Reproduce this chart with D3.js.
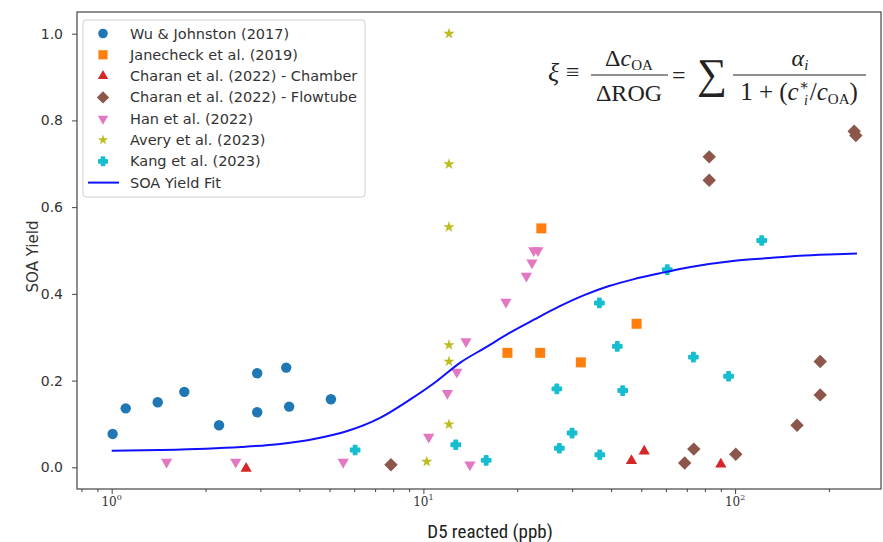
<!DOCTYPE html>
<html>
<head>
<meta charset="utf-8">
<script src="https://cdn.jsdelivr.net/npm/d3@7"></script>
<style>
  body { margin: 0; background: #fff; }
  svg { display: block; }
</style>
</head>
<body>
<svg id="chart" width="883" height="542"></svg>
<script>
// ---- data (x = D5 reacted, ppb ; y = SOA yield) ----
var wuX = [1.007, 1.109, 1.405, 1.71, 2.21, 2.93, 2.93, 3.63, 3.71, 5.05];
var wuY = [0.077, 0.136, 0.150, 0.174, 0.097, 0.217, 0.127, 0.230, 0.140, 0.157];

var janX = [18.6, 23.7, 23.9, 32.0, 48.3];
var janY = [0.264, 0.264, 0.551, 0.242, 0.331];

var chamX = [2.70, 46.5, 51.1, 90.0];
var chamY = [-0.003, 0.015, 0.037, 0.007];

var flowX = [7.87, 68.9, 73.7, 82.6, 82.6, 100.5, 158, 187.5, 187.5, 241, 244];
var flowY = [0.006, 0.010, 0.042, 0.716, 0.662, 0.030, 0.097, 0.167, 0.244, 0.775, 0.765];

var hanX = [1.50, 2.50, 5.53, 10.4, 11.94, 12.8, 13.7, 14.1, 18.4, 21.4, 22.3, 22.6, 23.3];
var hanY = [0.012, 0.012, 0.012, 0.070, 0.171, 0.220, 0.290, 0.006, 0.381, 0.441, 0.472, 0.500, 0.500];

var averyX = [10.25, 12.08, 12.08, 12.08, 12.08, 12.08, 12.08];
var averyY = [0.013, 0.099, 0.244, 0.282, 0.554, 0.699, 1.0];

var kangX = [6.04, 12.7, 15.9, 26.8, 27.3, 30.0, 36.7, 36.8, 41.9, 43.6, 60.6, 73.5, 95.3, 121.7];
var kangY = [0.040, 0.052, 0.016, 0.181, 0.044, 0.079, 0.379, 0.029, 0.279, 0.177, 0.456, 0.254, 0.210, 0.523];

// fitted curve
var fitX = [1.0, 1.43, 2.0, 2.6, 3.47, 4.5, 5.67, 7.26, 9.05, 11.0, 13.1, 15.8, 18.9, 22.7, 27.3, 32.8, 39.4, 47.4, 57.0, 72.0, 98.3, 125, 161, 200, 246];
var fitY = [0.038, 0.040, 0.043, 0.047, 0.054, 0.066, 0.083, 0.114, 0.156, 0.198, 0.241, 0.276, 0.310, 0.341, 0.371, 0.397, 0.418, 0.434, 0.447, 0.462, 0.476, 0.482, 0.488, 0.491, 0.493];

var xMajor = [1, 10, 100];
var xMinor = [0.8, 0.9, 2, 3, 4, 5, 6, 7, 8, 9, 20, 30, 40, 50, 60, 70, 80, 90, 200];
var yTicks = [0, 0.2, 0.4, 0.6, 0.8, 1.0];

var series = [
    {name: "Wu & Johnston (2017)",             xs: wuX,    ys: wuY,    color: "#1f77b4", sym: d3.symbolCircle,   size: 85,  rot: 0,   sw: 0},
    {name: "Janecheck et al. (2019)",          xs: janX,   ys: janY,   color: "#ff7f0e", sym: d3.symbolSquare,   size: 100, rot: 0,   sw: 0},
    {name: "Charan et al. (2022) - Chamber",   xs: chamX,  ys: chamY,  color: "#d62728", sym: d3.symbolTriangle, size: 55,  rot: 0,   sw: 0},
    {name: "Charan et al. (2022) - Flowtube",  xs: flowX,  ys: flowY,  color: "#8c564b", sym: d3.symbolSquare,   size: 90,  rot: 45,  sw: 0},
    {name: "Han et al. (2022)",                xs: hanX,   ys: hanY,   color: "#e377c2", sym: d3.symbolTriangle, size: 55,  rot: 180, sw: 0},
    {name: "Avery et al. (2023)",              xs: averyX, ys: averyY, color: "#bcbd22", sym: d3.symbolStar,     size: 40,  rot: 0,   sw: 0},
    {name: "Kang et al. (2023)",               xs: kangX,  ys: kangY,  color: "#17becf", sym: d3.symbolCross,    size: 42,  rot: 0,   sw: 2}
];

var svg = d3.select("#chart");
var L = 77, R = 881, T = 12, B = 489;

var x = d3.scaleLog().domain([0.774, 293.8]).range([L, R]);
var y = d3.scaleLinear().domain([-0.05, 1.05]).range([B, T]);

var sans = "'DejaVu Sans', sans-serif";

// ---- axes ----
var gx = svg.append("g").attr("transform", "translate(0," + B + ")");
gx.call(d3.axisBottom(x).tickValues(xMinor).tickSize(3).tickFormat(""));
gx.append("g").call(d3.axisBottom(x).tickValues(xMajor).tickSize(5).tickFormat(""));
gx.selectAll("path.domain").remove();
gx.selectAll("line").attr("stroke", "#444").attr("stroke-width", 1);

var xl = gx.selectAll("text.xl").data(xMajor).enter().append("text")
    .attr("class", "xl")
    .attr("x", function(d){ return x(d); })
    .attr("y", 17)
    .attr("text-anchor", "middle")
    .attr("fill", "#333")
    .attr("font-family", "'DejaVu Serif', serif")
    .attr("font-size", 12);
xl.append("tspan").text("10");
xl.append("tspan").attr("dy", -6).attr("font-size", 8).text(function(d){ return Math.round(Math.log10(d)); });

var gy = svg.append("g").attr("transform", "translate(" + L + ",0)");
gy.call(d3.axisLeft(y).tickValues(yTicks).tickFormat(d3.format(".1f")).tickSize(5).tickPadding(9));
gy.selectAll("path.domain").remove();
gy.selectAll("line").attr("stroke", "#444");
gy.selectAll("text").attr("fill", "#333").attr("font-family", sans).attr("font-size", 14);

// frame
svg.append("rect").attr("x", L).attr("y", T).attr("width", R - L).attr("height", B - T)
    .attr("fill", "none").attr("stroke", "#444").attr("stroke-width", 1.2);

// axis labels
svg.append("text")
    .attr("transform", "translate(38," + ((T + B) / 2 + 6) + ") rotate(-90)")
    .attr("text-anchor", "middle")
    .attr("fill", "#333")
    .attr("font-family", sans)
    .attr("font-size", 15)
    .text("SOA Yield");

svg.append("text")
    .attr("x", 490).attr("y", 538)
    .attr("text-anchor", "middle")
    .attr("fill", "#222")
    .attr("font-family", "'Liberation Sans Narrow', 'Roboto Condensed', Roboto, sans-serif")
    .attr("font-stretch", "condensed")
    .attr("font-size", 19)
    .text("D5 reacted (ppb)");

// ---- scatter points ----
var plot = svg.append("g");
series.forEach(function(s){
    var pts = s.xs.map(function(v, i){ return {x: v, y: s.ys[i]}; });
    plot.append("g").selectAll("path").data(pts).enter().append("path")
        .attr("d", d3.symbol().type(s.sym).size(s.size))
        .attr("transform", function(d){
            return "translate(" + x(d.x) + "," + y(d.y) + ") rotate(" + s.rot + ")";
        })
        .attr("fill", s.color)
        .attr("stroke", s.sw ? s.color : "none")
        .attr("stroke-width", s.sw)
        .attr("stroke-linejoin", "round");
});

// ---- fit line ----
var fitPts = fitX.map(function(v, i){ return [v, fitY[i]]; });
svg.append("path")
    .datum(fitPts)
    .attr("fill", "none")
    .attr("stroke", "#1010ff")
    .attr("stroke-width", 2)
    .attr("d", d3.line().curve(d3.curveMonotoneX)
        .x(function(d){ return x(d[0]); })
        .y(function(d){ return y(d[1]); }));

// ---- legend ----
var lg = svg.append("g");
lg.append("rect").attr("x", 83).attr("y", 20).attr("width", 282).attr("height", 177)
    .attr("rx", 3).attr("fill", "#fff").attr("fill-opacity", 0.8)
    .attr("stroke", "#d0d0d0");

var rowY = function(i){ return 33.5 + i * 21.3; };
series.forEach(function(s, i){
    lg.append("path")
        .attr("d", d3.symbol().type(s.sym).size(s.size * 0.85))
        .attr("transform", "translate(103," + rowY(i) + ") rotate(" + s.rot + ")")
        .attr("fill", s.color)
        .attr("stroke", s.sw ? s.color : "none")
        .attr("stroke-width", s.sw)
        .attr("stroke-linejoin", "round");
    lg.append("text").attr("x", 130).attr("y", rowY(i) + 5)
        .attr("fill", "#333").attr("font-family", sans).attr("font-size", 14.5)
        .text(s.name);
});
lg.append("line").attr("x1", 88).attr("x2", 119).attr("y1", rowY(7)).attr("y2", rowY(7))
    .attr("stroke", "#1010ff").attr("stroke-width", 2);
lg.append("text").attr("x", 130).attr("y", rowY(7) + 5)
    .attr("fill", "#333").attr("font-family", sans).attr("font-size", 14.5)
    .text("SOA Yield Fit");

// ---- equation ----
var eq = svg.append("g")
    .attr("font-family", "'Liberation Serif', 'DejaVu Serif', serif")
    .attr("fill", "#222");
eq.append("text").attr("x", 548).attr("y", 81).attr("font-size", 26).attr("font-style", "italic").text("ξ");
eq.append("text").attr("x", 566).attr("y", 80).attr("font-size", 24).text("≡");

var n1 = eq.append("text").attr("x", 629).attr("y", 66).attr("font-size", 24).attr("text-anchor", "middle");
n1.append("tspan").text("Δ");
n1.append("tspan").attr("font-style", "italic").text("c");
n1.append("tspan").attr("font-size", 15).attr("dy", 4).text("OA");
eq.append("line").attr("x1", 591).attr("x2", 668).attr("y1", 75).attr("y2", 75).attr("stroke", "#222").attr("stroke-width", 1.2);
eq.append("text").attr("x", 629).attr("y", 101).attr("font-size", 24).attr("text-anchor", "middle").text("ΔROG");

eq.append("text").attr("x", 672).attr("y", 83).attr("font-size", 24).text("=");
eq.append("text").attr("x", 697).attr("y", 88).attr("font-size", 42).text("∑");

var n2 = eq.append("text").attr("x", 800).attr("y", 66).attr("font-size", 24).attr("text-anchor", "middle");
n2.append("tspan").attr("font-style", "italic").text("α");
n2.append("tspan").attr("font-size", 15).attr("font-style", "italic").attr("dy", 4).text("i");
eq.append("line").attr("x1", 733).attr("x2", 866).attr("y1", 75).attr("y2", 75).attr("stroke", "#222").attr("stroke-width", 1.2);

var d2 = eq.append("text").attr("x", 799).attr("y", 100).attr("font-size", 25).attr("text-anchor", "middle");
d2.append("tspan").text("1 + (");
d2.append("tspan").attr("font-style", "italic").text("c");
d2.append("tspan").attr("font-size", 15).attr("dy", -10).text("∗");
d2.append("tspan").attr("font-size", 14).attr("font-style", "italic").attr("dx", -5).attr("dy", 15).text("i");
d2.append("tspan").attr("dx", 2).attr("dy", -5).text("/");
d2.append("tspan").attr("font-style", "italic").text("c");
d2.append("tspan").attr("font-size", 15).attr("dy", 4).text("OA");
d2.append("tspan").attr("dy", -4).text(")");
</script>
</body>
</html>
